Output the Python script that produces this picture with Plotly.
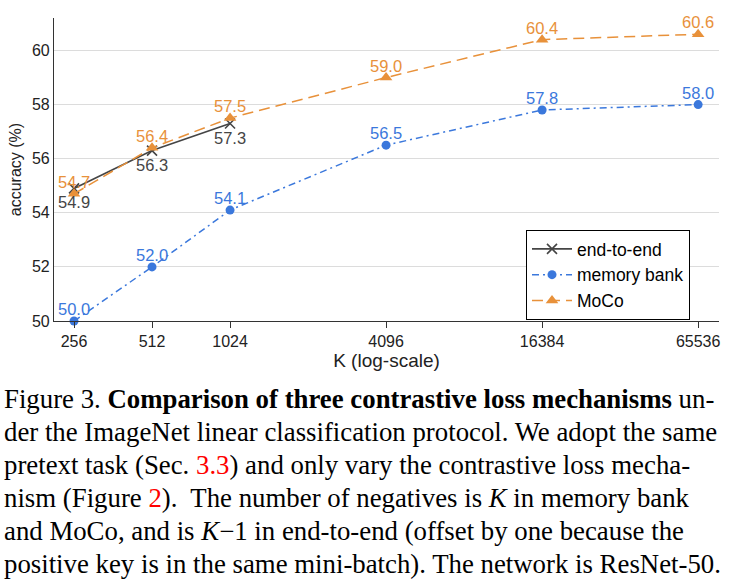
import math
import plotly.graph_objects as go

# ---------------- data ----------------
k_values = [256, 512, 1024, 4096, 16384, 65536]
k_labels = ["256", "512", "1024", "4096", "16384", "65536"]

e2e_k = [256, 512, 1024]
e2e_acc = [54.9, 56.3, 57.3]

membank_k = [256, 512, 1024, 4096, 16384, 65536]
membank_acc = [50.0, 52.0, 54.1, 56.5, 57.8, 58.0]

moco_k = [256, 512, 1024, 4096, 16384, 65536]
moco_acc = [54.7, 56.4, 57.5, 59.0, 60.4, 60.6]

y_ticks = [50, 52, 54, 56, 58, 60]

caption_lines = [
    "Figure 3. <b>Comparison of three contrastive loss mechanisms</b> un-",
    "der the ImageNet linear classification protocol. We adopt the same",
    "pretext task (Sec. <span style='color:#ff0000'>3.3</span>) and only vary the contrastive loss mecha-",
    "nism (Figure <span style='color:#ff0000'>2</span>).  The number of negatives is <i>K</i> in memory bank",
    "and MoCo, and is <i>K</i>\u22121 in end-to-end (offset by one because the",
    "positive key is in the same mini-batch). The network is ResNet-50.",
]

# ---------------- style ----------------
C_E2E = "#454545"
C_MB = "#3b78dc"
C_MOCO = "#e8913a"
SANS = "Liberation Sans, Arial, sans-serif"
SERIF = "Liberation Serif, Times New Roman, serif"

W, H = 738, 584
L, R, T, B = 54, 19, 18, 263
plot_w = W - L - R
plot_h = H - T - B

def px_to_paper_x(px):
    return (px - L) / plot_w

def px_to_paper_y(py):
    return (H - B - py) / plot_h

fig = go.Figure()

fig.add_trace(go.Scatter(
    x=e2e_k, y=e2e_acc, name="end-to-end",
    mode="lines+markers", cliponaxis=False,
    line=dict(color=C_E2E, width=1.6, dash="solid"),
    marker=dict(symbol="x-thin", size=10, line=dict(color=C_E2E, width=1.6), color=C_E2E),
))
fig.add_trace(go.Scatter(
    x=membank_k, y=membank_acc, name="memory bank",
    mode="lines+markers", cliponaxis=False,
    line=dict(color=C_MB, width=1.5, dash="7px,4px,2px,4px"),
    marker=dict(symbol="circle", size=9, color=C_MB),
))
fig.add_trace(go.Scatter(
    x=moco_k, y=moco_acc, name="MoCo",
    mode="lines+markers", cliponaxis=False,
    line=dict(color=C_MOCO, width=1.5, dash="11px,6px"),
    marker=dict(symbol="triangle-up", size=11, color=C_MOCO),
))

# value labels (annotations on a log axis take log10 of the data value)
def add_labels_log(xs, ys, color, shift):
    for xv, yv in zip(xs, ys):
        fig.add_annotation(
            x=math.log10(xv), y=yv, xref="x", yref="y",
            text=f"{yv:.1f}", showarrow=False, yshift=shift,
            xanchor="center", yanchor="middle",
            font=dict(family=SANS, size=16.5, color=color),
        )

add_labels_log(moco_k, moco_acc, C_MOCO, 12)
add_labels_log(membank_k, membank_acc, C_MB, 12)
add_labels_log(e2e_k, e2e_acc, C_E2E, -14)

for i, line in enumerate(caption_lines):
    py = 399 + i * 33.
    fig.add_annotation(
        x=px_to_paper_x(2), y=px_to_paper_y(py), xref="paper", yref="paper",
        xanchor="left", yanchor="middle", showarrow=False, align="left",
        text=line, font=dict(family=SERIF, size=26.8, color="#000000"),
    )

fig.update_layout(
    width=W, height=H,
    margin=dict(l=L, r=R, t=T, b=B, pad=0),
    paper_bgcolor="white", plot_bgcolor="white",
    font=dict(family=SANS, color="#222222"),
    showlegend=True,
    legend=dict(
        x=px_to_paper_x(526), y=px_to_paper_y(230), xanchor="left", yanchor="top",
        bordercolor="#000000", borderwidth=1, bgcolor="white",
        font=dict(family=SANS, size=17.5, color="#000000"),
        itemwidth=40, tracegroupgap=0,
    ),
)

fig.update_xaxes(
    type="log", range=[2.331, 4.897],
    tickvals=k_values, ticktext=k_labels,
    tickfont=dict(family=SANS, size=16, color="#222222"),
    ticks="outside", ticklen=6, tickcolor="#333333",
    showline=True, linecolor="#333333", linewidth=1.2,
    showgrid=False, zeroline=False,
    title=dict(text="K (log-scale)", font=dict(family=SANS, size=19, color="#222222"), standoff=4),
)
fig.update_yaxes(
    range=[50, 61.2],
    tickvals=y_ticks, ticktext=[str(v) for v in y_ticks],
    tickfont=dict(family=SANS, size=16, color="#222222"),
    ticks="", showline=True, linecolor="#333333", linewidth=1.2,
    showgrid=True, gridcolor="#dcdcdc", gridwidth=1,
    zeroline=False,
    title=dict(text="accuracy (%)", font=dict(family=SANS, size=16, color="#222222"), standoff=6),
)

fig.write_html("out.html", post_script="document.body.style.margin='0';",
               config={"displayModeBar": False})
